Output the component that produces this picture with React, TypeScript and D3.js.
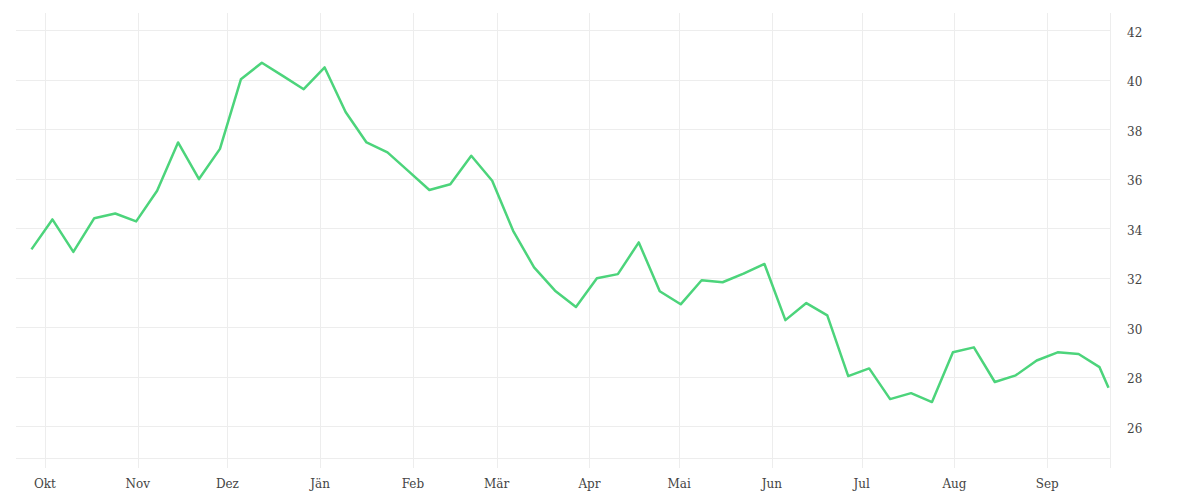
import React, { useEffect, useRef } from 'react';
import * as d3 from 'd3';

// weekly observations
const dates = [
  '2021-09-26', '2021-10-03', '2021-10-10', '2021-10-17', '2021-10-24', '2021-10-31',
  '2021-11-07', '2021-11-14', '2021-11-21', '2021-11-28', '2021-12-05', '2021-12-12',
  '2021-12-19', '2021-12-26', '2022-01-02', '2022-01-09', '2022-01-16', '2022-01-23',
  '2022-01-30', '2022-02-06', '2022-02-13', '2022-02-20', '2022-02-27', '2022-03-06',
  '2022-03-13', '2022-03-20', '2022-03-27', '2022-04-03', '2022-04-10', '2022-04-17',
  '2022-04-24', '2022-05-01', '2022-05-08', '2022-05-15', '2022-05-22', '2022-05-29',
  '2022-06-05', '2022-06-12', '2022-06-19', '2022-06-26', '2022-07-03', '2022-07-10',
  '2022-07-17', '2022-07-24', '2022-07-31', '2022-08-07', '2022-08-14', '2022-08-21',
  '2022-08-28', '2022-09-04', '2022-09-11', '2022-09-18', '2022-09-21',
];

const values = [
  33.14, 34.35, 33.04, 34.4, 34.59, 34.27, 35.51, 37.46, 35.98, 37.2,
  40.01, 40.68, 40.15, 39.61, 40.49, 38.69, 37.46, 37.06, 36.3, 35.54,
  35.77, 36.92, 35.91, 33.89, 32.41, 31.47, 30.81, 31.97, 32.14, 33.42,
  31.45, 30.92, 31.89, 31.81, 32.16, 32.55, 30.28, 30.97, 30.47, 28.02,
  28.33, 27.09, 27.33, 26.97, 28.98, 29.18, 27.78, 28.05, 28.65, 28.98,
  28.91, 28.38, 27.55,
];

const monthTicks = [
  '2021-10-01', '2021-11-01', '2021-12-01', '2022-01-01', '2022-02-01', '2022-03-01',
  '2022-04-01', '2022-05-01', '2022-06-01', '2022-07-01', '2022-08-01', '2022-09-01',
];
const monthLabels = ['Okt', 'Nov', 'Dez', 'Jän', 'Feb', 'Mär', 'Apr', 'Mai', 'Jun', 'Jul', 'Aug', 'Sep'];

const yTicks = [26, 28, 30, 32, 34, 36, 38, 40, 42];

const parse = d3.timeParse('%Y-%m-%d');

const LineChart = () => {
  const svgRef = useRef<SVGSVGElement>(null);

  useEffect(() => {
    const width = 1200;
    const height = 500;
    const left = 16;
    const right = 1110;
    const top = 13;
    const bottom = 458;

    const svg = d3.select(svgRef.current).attr('width', width).attr('height', height);
    svg.selectAll('*').remove();

    const data = dates.map((d, i) => ({ date: parse(d) as Date, value: values[i] }));

    const x = d3
      .scaleTime()
      .domain([new Date(2021, 8, 21, 8), new Date(2022, 8, 22)])
      .range([left, right]);

    const y = d3.scaleLinear().domain([24.71, 42.69]).range([bottom, top]);

    const grid = svg.append('g').attr('stroke', '#ededed').attr('stroke-width', 1);

    // horizontal grid
    grid
      .selectAll('line.h')
      .data([...yTicks, y.domain()[0]])
      .enter()
      .append('line')
      .attr('class', 'h')
      .attr('x1', left)
      .attr('x2', right)
      .attr('y1', (d) => Math.round(y(d)) + 0.5)
      .attr('y2', (d) => Math.round(y(d)) + 0.5);

    // vertical grid at month starts + right edge
    const ticks = monthTicks.map((d) => parse(d) as Date);
    grid
      .selectAll('line.v')
      .data([...ticks.map((d) => x(d)), right])
      .enter()
      .append('line')
      .attr('class', 'v')
      .attr('x1', (d) => Math.round(d) + 0.5)
      .attr('x2', (d) => Math.round(d) + 0.5)
      .attr('y1', top)
      .attr('y2', bottom + 10);

    const font = "'DejaVu Serif', serif";

    // x labels
    svg
      .append('g')
      .selectAll('text')
      .data(ticks)
      .enter()
      .append('text')
      .attr('x', (d) => x(d))
      .attr('y', 488)
      .attr('text-anchor', 'middle')
      .attr('font-family', font)
      .attr('font-size', '12px')
      .attr('fill', '#444')
      .text((_, i) => monthLabels[i]);

    // y labels (right side)
    svg
      .append('g')
      .selectAll('text')
      .data(yTicks)
      .enter()
      .append('text')
      .attr('x', 1127)
      .attr('y', (d) => y(d))
      .attr('dy', '0.55em')
      .attr('font-family', font)
      .attr('font-size', '12px')
      .attr('fill', '#444')
      .text((d) => d);

    const line = d3
      .line<{ date: Date; value: number }>()
      .x((d) => x(d.date) + 1.5)
      .y((d) => y(d.value));

    svg
      .append('path')
      .datum(data)
      .attr('fill', 'none')
      .attr('stroke', '#4cd47b')
      .attr('stroke-width', 2.5)
      .attr('stroke-linejoin', 'round')
      .attr('d', line);
  }, []);

  return (
    <div style={{ position: 'absolute', left: 0, top: 0 }}>
      <svg ref={svgRef} style={{ display: 'block' }}></svg>
    </div>
  );
};

export default function App() {
  return <LineChart />;
}
